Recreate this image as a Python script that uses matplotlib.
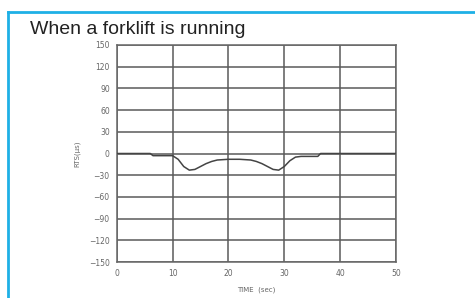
import matplotlib
matplotlib.use("Agg")
import matplotlib.pyplot as plt
from matplotlib.lines import Line2D

time_s = [0, 6, 6.5, 10, 11, 12, 13, 14, 15, 16, 17, 18, 20, 22, 24, 25, 26, 27, 28, 29, 30, 31, 32, 33, 36, 36.5, 50]
value_us = [0, 0, -3, -3, -8, -18, -23, -22, -18, -14, -11, -9, -8, -8, -9, -11, -14, -18, -22, -23, -18, -10, -5, -4, -4, 0, 0]
x_ticks = [0, 10, 20, 30, 40, 50]
y_ticks = [150, 120, 90, 60, 30, 0, -30, -60, -90, -120, -150]

fig = plt.figure(figsize=(4.75, 2.98), dpi=100)
fig.patch.set_facecolor("white")

# blue frame
blue = "#1eb0e6"
fig.add_artist(Line2D([8/475, 1.0], [1 - 12/298, 1 - 12/298], color=blue, lw=2, transform=fig.transFigure))
fig.add_artist(Line2D([8/475, 8/475], [0, 1 - 12/298], color=blue, lw=2, transform=fig.transFigure))

fig.text(30/475, 1 - 30/298, "When a forklift is running", fontsize=14, family="Liberation Sans",
         color="#222222", va="center", ha="left")

ax = fig.add_axes([116.7/475, (298-262)/298, (396-116.7)/475, (262-45)/298])
ax.plot(time_s, value_us, color="#444444", lw=1.1, zorder=3)
ax.set_xlim(0, 50)
ax.set_ylim(-150, 150)
ax.set_xticks(x_ticks)
ax.set_yticks(y_ticks)
ax.set_yticklabels([str(v).replace("-", "\u2212") for v in y_ticks])
ax.grid(True, color="#5a5a5a", lw=1.1)
ax.tick_params(length=0, labelsize=5.5, labelcolor="#666666", pad=5)
for s in ax.spines.values():
    s.set_color("#666666")
    s.set_linewidth(1.1)
ax.set_xlabel("TIME  (sec)", fontsize=5, color="#666666", labelpad=6)
ax.set_ylabel("RTS(\u03bcs)", fontsize=5, color="#666666", labelpad=6)

fig.savefig("out.png", dpi=100)
